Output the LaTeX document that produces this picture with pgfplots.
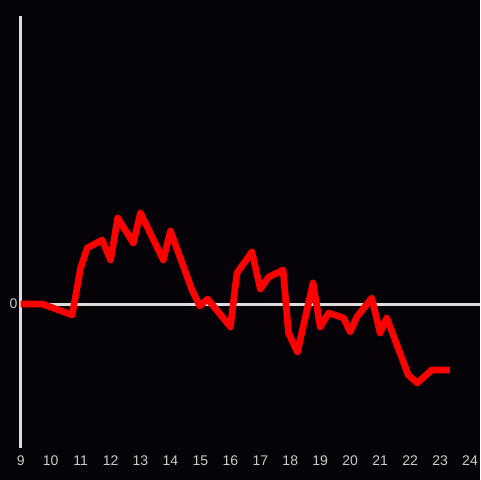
\documentclass[border=0pt]{standalone}
\usepackage{pgfplots}
\pgfplotsset{compat=1.18}
\usepackage{fontspec}
\setmainfont{Liberation Sans}
\definecolor{bg}{HTML}{050308}
\definecolor{ax}{HTML}{DDDDDD}
\definecolor{lbl}{HTML}{CCCCCC}
\begin{document}
\begin{tikzpicture}
\useasboundingbox (0,0) rectangle (360pt,360pt);
\fill[bg] (0,0) rectangle (360pt,360pt);
\begin{axis}[
  at={(15.5pt,24pt)}, anchor=south west,
  width=344.5pt, height=324pt, scale only axis,
  xmin=9, xmax=24.333, ymin=-144, ymax=288,
  axis y line*=left, axis x line*=bottom,
  x axis line style={draw=none},
  y axis line style={draw=ax, line width=2.25pt, -},
  xtick={9,10,...,24}, ytick={0},
  tick style={draw=none},
  ticklabel style={text=lbl, font=\fontsize{10.5}{12}\selectfont},
  /pgf/number format/assume math mode=true,
  xticklabel style={yshift=-2pt},
  yticklabel style={xshift=1pt},
  clip=false,
]
\draw[ax, line width=2.25pt] (axis cs:9,0) -- (axis cs:24.333,0);
\addplot[color=red, line width=5pt, line join=round, no marks] coordinates {
(9.0,0) (9.72,0) (10.72,-11) (11.0,36) (11.22,56) (11.72,64) (12.0,44)
(12.24,86) (12.76,61) (13.0,91) (13.76,44) (14.0,73) (14.72,14) (14.98,-2)
(15.24,5) (15.98,-22) (16.0,-23) (16.22,31) (16.72,52) (17.0,15) (17.28,27)
(17.76,34) (17.94,-29) (18.24,-48) (18.76,21) (19.0,-23) (19.28,-9)
(19.78,-14) (20.0,-28) (20.22,-13) (20.72,6) (21.0,-29) (21.22,-14)
(21.94,-71) (22.24,-79) (22.72,-66) (23.33,-66)
};
\end{axis}
\end{tikzpicture}
\end{document}
